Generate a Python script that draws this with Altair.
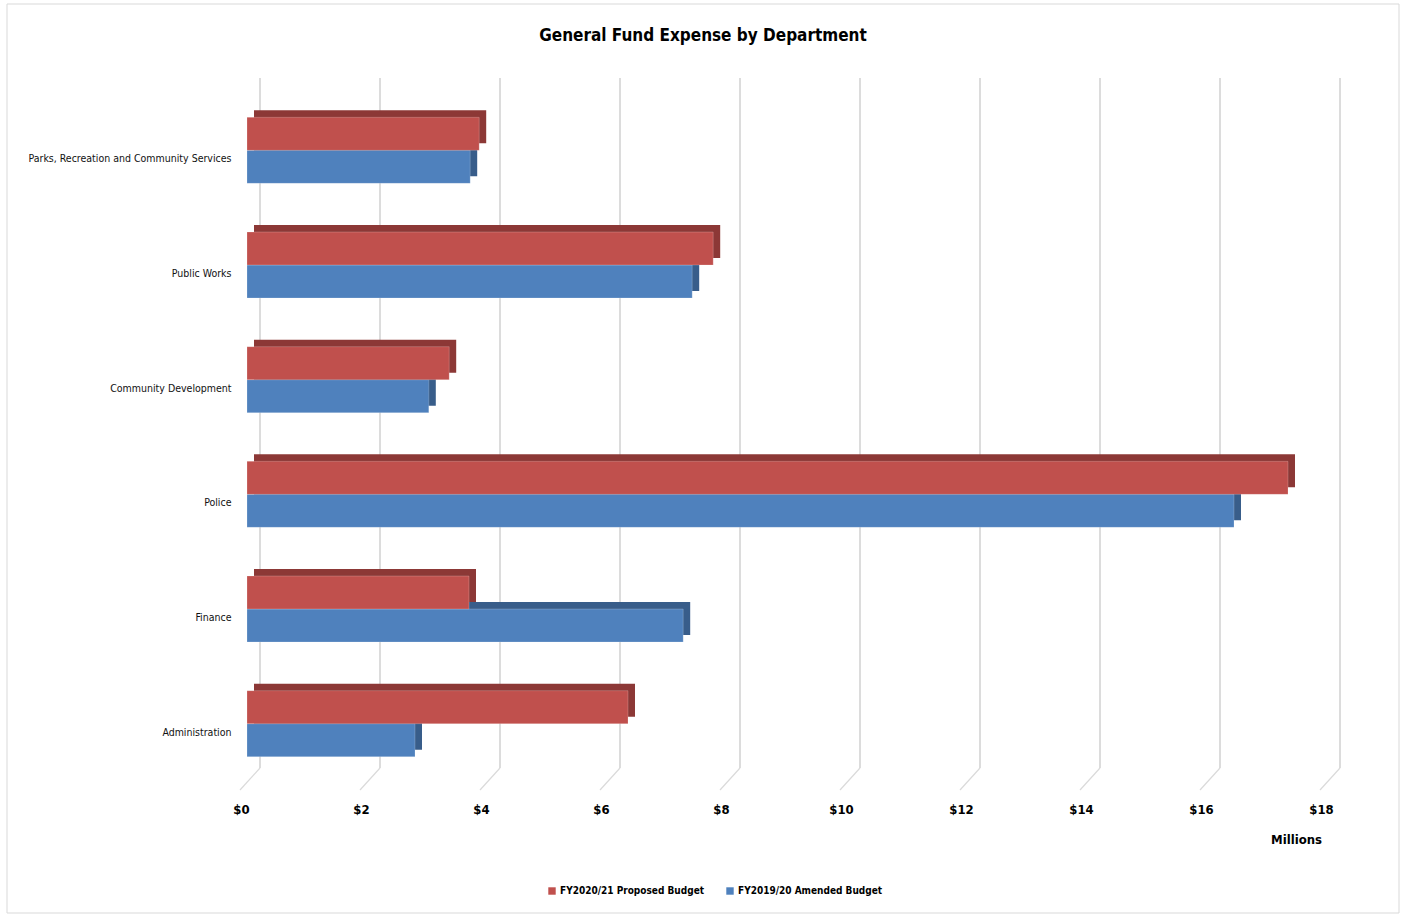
import altair as alt
import pandas as pd

departments = ["Parks, Recreation and Community Services", "Public Works",
               "Community Development", "Police", "Finance", "Administration"]
proposed_2021 = [3.87, 7.77, 3.37, 17.35, 3.70, 6.35]
amended_1920 = [3.72, 7.42, 3.03, 16.45, 7.27, 2.80]
series_names = ["FY2020/21 Proposed Budget", "FY2019/20 Amended Budget"]
front_colors = ["#C0504D", "#4F81BD"]
side_colors = ["#8C3836", "#385D8A"]
tick_values = [0, 2, 4, 6, 8, 10, 12, 14, 16, 18]

rows = []
for d, a, b in zip(departments, proposed_2021, amended_1920):
    rows.append({"dept": d, "series": series_names[0], "value": a})
    rows.append({"dept": d, "series": series_names[1], "value": b})
df = pd.DataFrame(rows)
grid_df = pd.DataFrame({"v": tick_values})
one = pd.DataFrame({"k": [0]})

W, H = 1080, 688
FONT = "'DejaVu Sans Condensed', 'Open Sans', Roboto, sans-serif"

xscale = alt.Scale(domain=[0, 18], nice=False, zero=True)
yscale = alt.Scale(domain=departments, paddingInner=0.425, paddingOuter=0.2125)
cscale = alt.Scale(domain=series_names, range=front_colors)

xaxis = alt.Axis(values=tick_values, labelExpr="'$' + datum.value", title="Millions",
                 grid=False, domain=False, ticks=False, labelFlush=False,
                 labelFont=FONT, labelFontSize=13, labelFontWeight="bold", labelColor="#000",
                 labelPadding=22, labelOffset=-6,
                 titleFont=FONT, titleFontSize=13, titleFontWeight="bold", titleColor="#000",
                 titleX=1049, titleY=52, titleAlign="center")
yaxis = alt.Axis(title=None, grid=False, domain=False, ticks=False,
                 labelFont=FONT, labelFontSize=10.5, labelColor="#111",
                 labelPadding=16, labelOffset=9, labelLimit=400)

X = lambda f: alt.X(f, scale=xscale, axis=xaxis)
Y = alt.Y("dept:N", scale=yscale, sort=departments, axis=yaxis)

border = alt.Chart(one).mark_rect(filled=False, stroke="#D9D9D9", strokeWidth=1).encode(
    x=alt.value(-240), x2=alt.value(1152), y=alt.value(-89), y2=alt.value(820))

grid = alt.Chart(grid_df).mark_rule(color="#D0D0D0", strokeWidth=1.5, xOffset=13).encode(
    x=X("v:Q"), y=alt.value(-15), y2=alt.value(675))
floor = alt.Chart(grid_df).mark_rule(color="#DADADA", strokeWidth=1.2, xOffset=13, x2Offset=-7).encode(
    x=X("v:Q"), x2="v:Q", y=alt.value(675), y2=alt.value(697))

def bar_layer(idx, shadow):
    s = series_names[idx]
    yo = -16.5 if idx == 0 else 16.5
    if shadow:
        props = dict(height=33, xOffset=7, x2Offset=7,
                     yOffset=yo - 7, y2Offset=yo - 7, color=side_colors[idx])
    else:
        props = dict(height=33, yOffset=yo, y2Offset=yo,
                     color=front_colors[idx], stroke="#FFFFFF", strokeWidth=0.4, strokeOpacity=0.5)
    return alt.Chart(df).transform_filter(alt.datum.series == s).mark_bar(**props).encode(
        x=X("value:Q"), y=Y)

legend_layer = alt.Chart(df).mark_bar(opacity=0).encode(
    color=alt.Color("series:N", scale=cscale, sort=series_names,
                    legend=alt.Legend(title=None, orient="none", direction="horizontal",
                                      legendX=300, legendY=793, symbolType="square", symbolSize=55,
                                      symbolOpacity=1, labelLimit=400,
                                      labelFont=FONT, labelFontSize=10, labelFontWeight="bold",
                                      labelColor="#000", columnPadding=20, labelOffset=3)),
    x=X("value:Q"), y=Y,
)

title = alt.Chart(one).mark_text(text="General Fund Expense by Department", font=FONT, fontSize=17,
                                 fontWeight="bold", color="#000", align="center", baseline="middle").encode(
    x=alt.value(456), y=alt.value(-57))

chart = alt.layer(
    border, grid, floor, legend_layer,
    bar_layer(1, True), bar_layer(0, True),
    bar_layer(1, False), bar_layer(0, False),
    title,
).properties(
    width=W, height=H,
    autosize=alt.AutoSizeParams(type="none"),
    padding={"left": 247, "top": 93, "right": 78, "bottom": 134},
    background="#FFFFFF",
).configure_view(strokeWidth=0, stroke="transparent")

chart.save("out.html", embed_options={"renderer": "svg", "actions": False})
